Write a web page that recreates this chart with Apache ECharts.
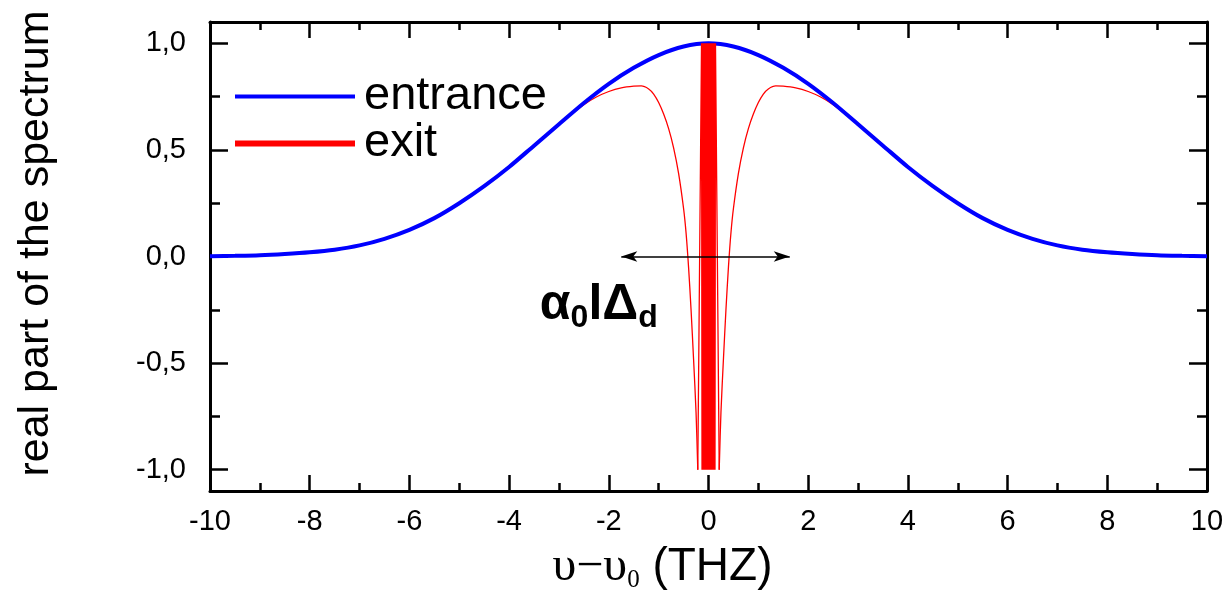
<!DOCTYPE html>
<html><head><meta charset="utf-8">
<script src="https://cdn.jsdelivr.net/npm/echarts@6/dist/echarts.min.js"></script>
<style>html,body{margin:0;padding:0;background:#fff}#c{width:1232px;height:601px}</style>
</head><body><div id="c"></div>
<script>
// ---- data ----
const xEntrance = [-10,-9.5,-9,-8.5,-8,-7.5,-7,-6.5,-6,-5.5,-5,-4.5,-4,-3.5,-3,-2.5,-2,-1.5,-1,-0.5,0,0.5,1,1.5,2,2.5,3,3.5,4,4.5,5,5.5,6,6.5,7,7.5,8,8.5,9,9.5,10];
const yEntrance = [0.001,0.003,0.006,0.012,0.02,0.032,0.052,0.083,0.125,0.18,0.25,0.33,0.42,0.52,0.62,0.72,0.81,0.885,0.945,0.985,1.0,0.985,0.945,0.885,0.81,0.72,0.62,0.52,0.42,0.33,0.25,0.18,0.125,0.083,0.052,0.032,0.02,0.012,0.006,0.003,0.001];

const xExitLeft = [-10,-9.5,-9,-8.5,-8,-7.5,-7,-6.5,-6,-5.5,-5,-4.5,-4,-3.5,-3,-2.75,-2.5,-2.25,-2,-1.75,-1.5,-1.35,-1.2,-1.1,-1,-0.9,-0.8,-0.7,-0.6,-0.5,-0.45,-0.4,-0.35,-0.3,-0.25,-0.215];
const yExitLeft = [0.001,0.003,0.006,0.012,0.02,0.032,0.052,0.083,0.125,0.18,0.25,0.33,0.42,0.52,0.62,0.667,0.712,0.748,0.774,0.791,0.799,0.8,0.786,0.762,0.722,0.668,0.6,0.51,0.39,0.225,0.11,-0.05,-0.25,-0.48,-0.73,-1.0];

const xExitRight = [0.215,0.25,0.3,0.35,0.4,0.45,0.5,0.6,0.7,0.8,0.9,1,1.1,1.2,1.35,1.5,1.75,2,2.25,2.5,2.75,3,3.5,4,4.5,5,5.5,6,6.5,7,7.5,8,8.5,9,9.5,10];
const yExitRight = [-1.0,-0.73,-0.48,-0.25,-0.05,0.11,0.225,0.39,0.51,0.6,0.668,0.722,0.762,0.786,0.8,0.799,0.791,0.774,0.748,0.712,0.667,0.62,0.52,0.42,0.33,0.25,0.18,0.125,0.083,0.052,0.032,0.02,0.012,0.006,0.003,0.001];

// rapid oscillation of the exit spectrum around the line centre
const xExitBand = [-0.215,-0.14,-0.13,-0.12,-0.11,-0.10,-0.09,-0.08,-0.07,-0.06,-0.05,-0.04,-0.03,-0.02,-0.01,0,0.01,0.02,0.03,0.04,0.05,0.06,0.07,0.08,0.09,0.10,0.11,0.12,0.13,0.14,0.215];
const yExitBand = [-1,1,-1,1,-1,1,-1,1,-1,1,-1,1,-1,1,-1,1,-1,1,-1,1,-1,1,-1,1,-1,1,-1,1,-1,1,-1];

const yMajorTicks = [-1, -0.5, 0, 0.5, 1];
const yMinorTicks = [-0.75, -0.25, 0.25, 0.75];

const arrowFrom = [-1.75, 0];
const arrowTo = [1.63, 0];
const annotationAt = [-2.2, -0.23];

// ---- chart ----
const pairs = (xs, ys) => xs.map((x, i) => [x, ys[i]]);
const SANS = 'Liberation Sans, Arial, sans-serif';
const SERIF = 'Liberation Serif, Times New Roman, serif';
const tickLine = {color: '#000', width: 2.5};
const axisLine = {show: true, onZero: false, lineStyle: {color: '#000', width: 3}};
const noLine = {show: false, onZero: false};
const fmtY = v => v.toFixed(1).replace('.', ',');

const yBase = {type: 'value', min: -1.1, max: 1.1, splitLine: {show: false}};
const xBase = {type: 'value', min: -10, max: 10, interval: 2, splitLine: {show: false}};

const option = {
  animation: false,
  backgroundColor: '#fff',
  grid: {left: 210, right: 25, top: 22, bottom: 110},
  legend: {
    orient: 'vertical', left: 230, top: 68, itemWidth: 120, itemHeight: 14, itemGap: 0,
    selectedMode: false,
    textStyle: {fontFamily: SANS, fontSize: 47, color: '#000', lineHeight: 44, padding: [0, 0, 0, 4]},
    data: [
      {name: 'entrance', icon: 'path://M0,0H120V4H0Z', itemStyle: {color: '#0000ff'}},
      {name: 'exit', icon: 'path://M0,0H120V6H0Z', itemStyle: {color: '#ff0000'}}
    ]
  },
  xAxis: [
    Object.assign({}, xBase, {
      position: 'bottom', axisLine: axisLine,
      axisTick: {show: true, inside: true, length: 16, lineStyle: tickLine},
      minorTick: {show: true, splitNumber: 2, length: 8, lineStyle: tickLine},
      axisLabel: {show: true, showMinLabel: true, showMaxLabel: true, margin: 16, fontFamily: SANS, fontSize: 29, color: '#000', formatter: v => String(v)},
      name: '{u|υ−υ}{s|0}{n| (THZ)}', nameLocation: 'middle', nameGap: 50,
      nameTextStyle: {
        padding: [0, 92, 0, 0],
        rich: {
          u: {fontFamily: SERIF, fontSize: 48, lineHeight: 52, color: '#000'},
          s: {fontFamily: SERIF, fontSize: 25, lineHeight: 22, verticalAlign: 'bottom', color: '#000'},
          n: {fontFamily: SANS, fontSize: 46, lineHeight: 52, color: '#000'}
        }
      }
    }),
    Object.assign({}, xBase, {
      position: 'top', axisLine: axisLine,
      axisTick: {show: true, inside: true, length: 16, lineStyle: tickLine},
      minorTick: {show: true, splitNumber: 2, length: 8, lineStyle: tickLine},
      axisLabel: {show: false}
    })
  ],
  yAxis: [
    Object.assign({}, yBase, {
      position: 'left', axisLine: axisLine,
      axisTick: {show: true, inside: true, length: 18, lineStyle: tickLine, customValues: yMajorTicks},
      axisLabel: {show: true, customValues: yMajorTicks, margin: 24, fontFamily: SANS, fontSize: 29, color: '#000', formatter: fmtY},
      name: 'real part of the spectrum', nameLocation: 'middle', nameGap: 152,
      nameTextStyle: {fontFamily: SANS, fontSize: 43, color: '#000', padding: [0, 0, 0, 26]}
    }),
    Object.assign({}, yBase, {
      position: 'left', axisLine: noLine,
      axisTick: {show: true, inside: true, length: 10, lineStyle: tickLine, customValues: yMinorTicks},
      axisLabel: {show: false}
    }),
    Object.assign({}, yBase, {
      position: 'right', axisLine: axisLine,
      axisTick: {show: true, inside: true, length: 18, lineStyle: tickLine, customValues: yMajorTicks},
      axisLabel: {show: false}
    }),
    Object.assign({}, yBase, {
      position: 'right', axisLine: noLine,
      axisTick: {show: true, inside: true, length: 10, lineStyle: tickLine, customValues: yMinorTicks},
      axisLabel: {show: false}
    })
  ],
  series: [
    {name: 'exit', type: 'line', data: pairs(xExitLeft, yExitLeft), smooth: 0.3,
     symbol: 'none', showSymbol: false, lineStyle: {color: '#ff0000', width: 1.3}, itemStyle: {color: '#ff0000'}, silent: true},
    {name: 'exit', type: 'line', data: pairs(xExitRight, yExitRight), smooth: 0.3,
     symbol: 'none', showSymbol: false, lineStyle: {color: '#ff0000', width: 1.3}, itemStyle: {color: '#ff0000'}, silent: true},
    {name: 'entrance', type: 'line', data: pairs(xEntrance, yEntrance), smooth: 0.3,
     symbol: 'none', showSymbol: false, lineStyle: {color: '#0000ff', width: 4}, itemStyle: {color: '#0000ff'}, silent: true},
    {name: 'exit', type: 'line', data: pairs(xExitBand, yExitBand), smooth: false,
     symbol: 'none', showSymbol: false, lineStyle: {color: '#ff0000', width: 1.3}, itemStyle: {color: '#ff0000'}, silent: true,
     markLine: {
       silent: true, symbol: ['arrow', 'arrow'], symbolSize: 14,
       itemStyle: {color: '#000'},
       lineStyle: {color: '#000', width: 1.5, type: 'solid'}, label: {show: false},
       emphasis: {disabled: true},
       data: [[{coord: arrowFrom, symbolSize: [8, 16], itemStyle: {color: '#000'}},
               {coord: arrowTo, symbolSize: [8, 16], itemStyle: {color: '#000'}}]]
     },
     markPoint: {
       silent: true, symbol: 'circle', symbolSize: 1, itemStyle: {color: 'rgba(0,0,0,0)'},
       label: {
         show: true, position: 'inside', formatter: '{a|α}{s|0}{a|lΔ}{s|d}',
         rich: {
           a: {fontFamily: SANS, fontWeight: 'bold', fontSize: 50, lineHeight: 58, color: '#000'},
           s: {fontFamily: SANS, fontWeight: 'bold', fontSize: 32, lineHeight: 20, verticalAlign: 'bottom', color: '#000'}
         }
       },
       data: [{coord: annotationAt}]
     }
    }
  ]
};

const chart = echarts.init(document.getElementById('c'));
chart.setOption(option);
</script>
</body></html>
